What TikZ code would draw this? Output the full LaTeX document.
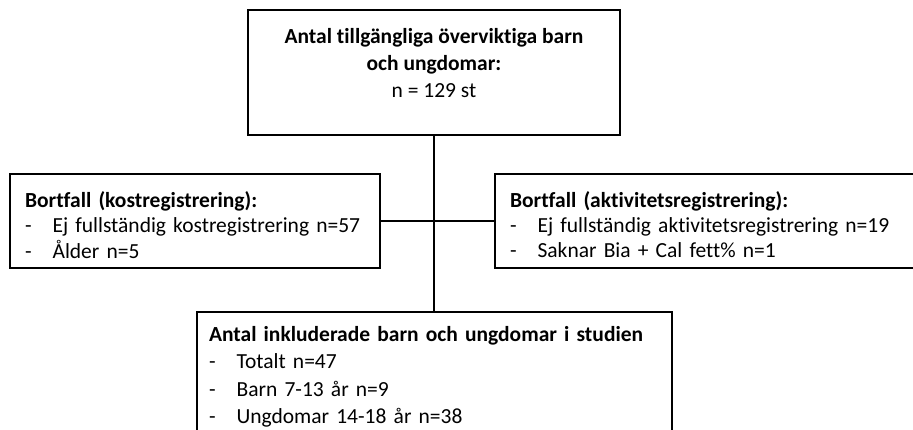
\documentclass[tikz,border=0pt]{standalone}
\usepackage{fontspec}
\setmainfont{Carlito}[Ligatures=NoCommon]
\newcommand{\topgap}{\rule{0pt}{31pt}}

\begin{document}
\begin{tikzpicture}[x=1pt,y=-1pt,inner sep=0pt,outer sep=0pt,
  every node/.style={font=\fontsize{21.5}{26}\selectfont},
  flowbox/.style={draw,line width=2.6pt,anchor=north west},
  link/.style={line width=2.4pt}]
  \useasboundingbox (0,0) rectangle (913,429);
  \clip (0,0) rectangle (913,429);
  % 
  \node[flowbox,minimum width=372pt,minimum height=125pt] (avail) at (248,10)
  {%
  \renewcommand{\arraystretch}{1.04}%
  \begin{tabular}{@{}c@{}}
  \textbf{Antal tillgängliga överviktiga barn} \\
  \textbf{och ungdomar:} \\
  n = 129 st \\[14pt]
  \end{tabular}%
  };
  \node[flowbox,inner xsep=15pt,text width=340pt,minimum height=94pt] (dietloss) at (10,174)
  {%
  \renewcommand{\arraystretch}{0.97}%
  \begin{tabular}{@{}l@{\hspace{21pt}}l@{}}
  \multicolumn{2}{@{}l@{}}{\topgap\textbf{Bortfall (kostregistrering):}} \\
  - & Ej fullständig kostregistrering n=57 \\
  - & Ålder n=5
  \end{tabular}%
  };
  \node[flowbox,inner xsep=15pt,text width=405pt,minimum height=94pt] (actloss) at (495,174)
  {%
  \renewcommand{\arraystretch}{0.97}%
  \begin{tabular}{@{}l@{\hspace{21pt}}l@{}}
  \multicolumn{2}{@{}l@{}}{\topgap\textbf{Bortfall (aktivitetsregistrering):}} \\
  - & Ej fullständig aktivitetsregistrering n=19 \\
  - & Saknar Bia + Cal fett\% n=1
  \end{tabular}%
  };
  \node[flowbox,inner xsep=12pt,inner ysep=11pt,text width=451pt] (incl) at (197,312)
  {%
  \renewcommand{\arraystretch}{1.04}%
  \begin{tabular}{@{}l@{\hspace{21pt}}l@{}}
  \multicolumn{2}{@{}l@{}}{\textbf{Antal inkluderade barn och ungdomar i studien}} \\
  - & Totalt n=47 \\
  - & Barn 7-13 år n=9 \\
  - & Ungdomar 14-18 år n=38 \\[12pt]
  \end{tabular}%
  };
  % 
  \draw[link] (avail.south) -- (avail.south |- incl.north);
  \draw[link] (dietloss.east) -- (actloss.west);
\end{tikzpicture}
\end{document}
